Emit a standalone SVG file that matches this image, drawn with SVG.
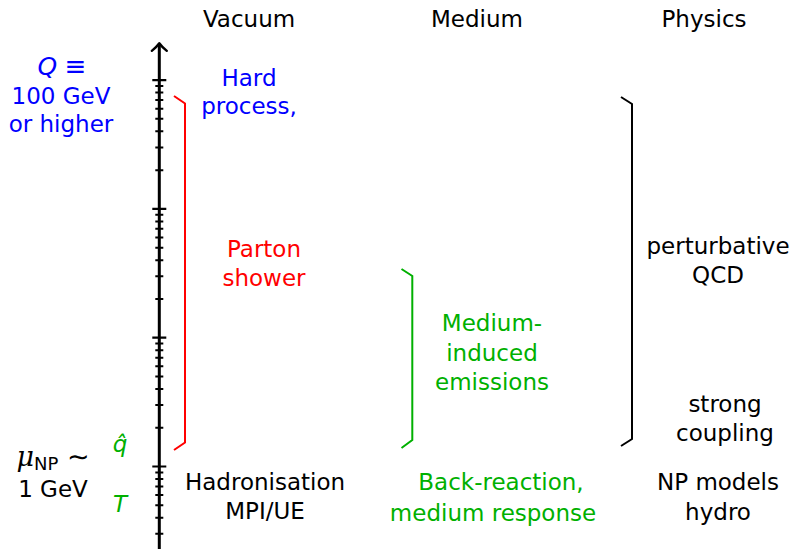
<svg xmlns="http://www.w3.org/2000/svg" width="795" height="549" viewBox="0 0 795 549">
<style>
text{font-family:"DejaVu Sans","Liberation Sans",sans-serif;font-size:23px;text-anchor:middle}
.k{fill:#000}.b{fill:#0000ff}.r{fill:#ff0000}.g{fill:#00b000}
.it{font-style:italic}
.br{fill:none;stroke-width:2;stroke-linejoin:miter}
.ax{stroke:#000;fill:none}
</style>
<rect width="795" height="549" fill="#fff"/>
<g id="headers">
<text x="249" y="27" class="k">Vacuum</text>
<text x="477" y="27" class="k">Medium</text>
<text x="704" y="27" class="k">Physics</text>
</g>
<g id="axis">
<path class="ax" stroke-width="3" d="M159.3,549 V44"/>
<path class="ax" stroke-width="2.4" stroke-linecap="round" stroke-linejoin="round" d="M151.8,50.8 Q157,46.5 159.3,43.2 Q161.6,46.5 166.8,50.8"/>
<path class="ax" stroke-width="2.2" d="M152.3,80.1h14M152.3,208.9h14M152.3,337.7h14M152.3,466.5h14"/>
<path class="ax" stroke-width="2" d="M155.3,170.13h8M155.3,147.45h8M155.3,131.35h8M155.3,118.87h8M155.3,108.67h8M155.3,100.05h8M155.3,92.58h8M155.3,85.99h8
M155.3,298.93h8M155.3,276.25h8M155.3,260.15h8M155.3,247.67h8M155.3,237.47h8M155.3,228.85h8M155.3,221.38h8M155.3,214.79h8
M155.3,427.73h8M155.3,405.05h8M155.3,388.95h8M155.3,376.47h8M155.3,366.27h8M155.3,357.65h8M155.3,350.18h8M155.3,343.59h8
M155.3,472.39h8M155.3,478.98h8M155.3,486.45h8M155.3,495.07h8M155.3,505.27h8M155.3,517.75h8M155.3,533.85h8"/>
</g>
<g id="scale-labels">
<text x="62" y="75" class="b"><tspan class="it" font-size="25">Q</tspan> <tspan font-size="26">≡</tspan></text>
<text x="61" y="104" class="b">100 GeV</text>
<text x="61" y="132" class="b">or higher</text>
<text x="53" y="466" class="k"><tspan font-family="DejaVu Serif" class="it" font-size="27">μ</tspan><tspan font-size="18" dy="4">NP</tspan><tspan dy="-4" font-size="27"> ∼</tspan></text>
<text x="53" y="497" class="k">1 GeV</text>
<text x="120" y="452" class="g it">q̂</text>
<text x="120" y="512" class="g it" font-size="25">T</text>
</g>
<g id="connectors">
<path class="br" stroke="#ff0000" d="M174,96 L185,103.5 V442.5 L174,450"/>
<path class="br" stroke="#00b000" d="M401.5,269 L412.3,276 V440 L401.5,448"/>
<path class="br" stroke="#000000" d="M621,97 L632,104 V439 L621,446"/>
</g>
<g id="hard-process">
<text x="249" y="86" class="b">Hard</text>
<text x="249" y="114" class="b">process,</text>
</g>
<g id="parton-shower">
<text x="264" y="257" class="r">Parton</text>
<text x="264" y="286" class="r">shower</text>
</g>
<g id="medium-induced">
<text x="492" y="331" class="g">Medium-</text>
<text x="492" y="361" class="g">induced</text>
<text x="492" y="390" class="g">emissions</text>
</g>
<g id="pqcd">
<text x="718" y="254" class="k">perturbative</text>
<text x="718" y="283" class="k">QCD</text>
</g>
<g id="strong">
<text x="725" y="412" class="k">strong</text>
<text x="725" y="441" class="k">coupling</text>
</g>
<g id="hadronisation">
<text x="265" y="490" class="k">Hadronisation</text>
<text x="265" y="519" class="k">MPI/UE</text>
</g>
<g id="back-reaction">
<text x="501" y="490" class="g">Back-reaction,</text>
<text x="493" y="521" class="g">medium response</text>
</g>
<g id="np-models">
<text x="718" y="490" class="k">NP models</text>
<text x="718" y="520" class="k">hydro</text>
</g>
</svg>
